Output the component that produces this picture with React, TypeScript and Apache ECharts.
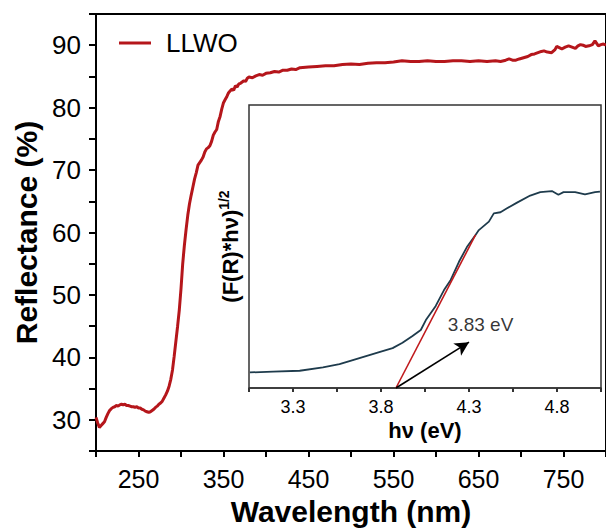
import React, { useEffect, useRef } from "react";
import * as echarts from "echarts";

// Main spectrum: wavelength (nm) vs reflectance (%)
const wavelength = [
  200, 202, 204, 206, 208, 210, 212, 214, 216, 218, 220, 222, 224, 226, 228, 230, 232, 234, 236, 238,
  240, 242, 244, 246, 248, 250, 252, 254, 256, 258, 260, 262, 264, 266, 268, 270, 272, 274, 276, 278,
  280, 282, 284, 286, 288, 290, 292, 294, 296, 298, 300, 302, 304, 306, 308, 310, 312, 314, 316, 318,
  320, 322, 324, 326, 328, 330, 332, 334, 336, 338, 340, 342, 344, 346, 348, 350, 352, 354, 356, 358,
  360, 362, 364, 366, 368, 370, 372, 374, 376, 378, 380, 384, 388, 392, 396, 400, 405, 410, 415, 420,
  425, 430, 435, 440, 450, 460, 470, 480, 490, 500, 510, 520, 530, 540, 550, 560, 570, 580, 590, 600,
  610, 620, 630, 640, 650, 660, 670, 676, 682, 686, 690, 694, 698, 703, 708, 712, 716, 720, 724, 727,
  731, 736, 740, 742, 745, 748, 752, 756, 760, 764, 767, 770, 773, 776, 780, 784, 787, 789, 791, 794,
  797, 800,
];
const reflectance = [
  30.4, 29.5, 28.8, 29.1, 29.4, 29.7, 30.4, 31.0, 31.5, 31.8, 32.0, 32.1, 32.3, 32.2, 32.4, 32.5, 32.4, 32.5, 32.3, 32.3,
  32.2, 32.1, 32.1, 32.0, 32.1, 31.9, 31.9, 31.7, 31.6, 31.4, 31.3, 31.2, 31.3, 31.5, 31.7, 32.0, 32.2, 32.5, 32.7, 33.0,
  33.5, 34.0, 34.6, 35.4, 36.5, 38.0, 40.2, 42.6, 45.0, 47.6, 51.0, 55.0, 58.0, 60.5, 62.8, 64.6, 66.0, 67.3, 68.6, 69.6,
  70.8, 71.2, 71.6, 72.1, 72.9, 73.4, 73.6, 73.9, 74.6, 75.6, 76.1, 76.5, 77.8, 78.6, 79.8, 80.8, 81.3, 81.8, 82.4, 82.7,
  83.0, 82.8, 83.5, 83.3, 83.8, 83.9, 84.1, 84.3, 84.2, 84.7, 84.9, 84.8, 85.1, 85.3, 85.2, 85.5, 85.6, 85.8, 85.7, 86.0,
  86.0, 86.2, 86.1, 86.4, 86.5, 86.6, 86.7, 86.7, 86.9, 87.0, 86.9, 87.1, 87.2, 87.2, 87.3, 87.5, 87.4, 87.4, 87.5, 87.4,
  87.4, 87.5, 87.5, 87.4, 87.5, 87.4, 87.5, 87.4, 87.6, 87.8, 87.6, 87.6, 87.8, 88.0, 88.2, 88.5, 88.6, 88.8, 89.0, 89.1,
  88.9, 88.8, 89.3, 89.8, 89.6, 89.4, 89.7, 89.9, 89.7, 89.5, 89.9, 90.1, 90.0, 89.8, 89.9, 90.1, 90.7, 90.3, 89.9, 90.1,
  90.2, 90.0,
];

// Inset: photon energy (eV) vs (F(R)*hv)^1/2 (arbitrary units)
const photonEnergy = [
  3.055, 3.187, 3.338, 3.47, 3.564, 3.621, 3.715, 3.79, 3.866, 3.922, 3.979, 4.026, 4.055, 4.111, 4.158, 4.196,
  4.243, 4.288, 4.337, 4.356, 4.413, 4.441, 4.479, 4.516, 4.573, 4.648, 4.705, 4.771, 4.808, 4.837, 4.903, 4.959,
  5.016, 5.044,
];
const kubelkaMunk = [
  5.5, 5.8, 6.1, 7.3, 8.4, 9.5, 11.3, 12.7, 14.1, 16.0, 18.4, 20.5, 24.0, 29.0, 34.6, 38.2,
  44.6, 49.8, 54.1, 55.8, 58.8, 61.7, 62.1, 63.5, 65.5, 68.0, 69.2, 69.6, 68.3, 69.2, 69.2, 68.4,
  69.2, 69.4,
];
const tangentEnergy = [3.885, 4.337];
const tangentValue = [0, 54.1];
const arrowFrom = [3.885, 0];
const arrowTo = [4.3, 16.2];
const bandGapText = "3.83 eV";
const bandGapLabelAt = [4.366, 22.6];

// Tick labels
const mainXLabels = [250, 350, 450, 550, 650, 750];
const mainYLabels = [30, 40, 50, 60, 70, 80, 90];
const insetXTickValues = [3.05, 3.3, 3.55, 3.8, 4.05, 4.3, 4.55, 4.8, 5.05];
const insetXLabels = [3.3, 3.8, 4.3, 4.8];

const FONT = "'Liberation Sans', Arial, Helvetica, sans-serif";

export default function App() {
  const ref = useRef<HTMLDivElement>(null);

  useEffect(() => {
    document.body.style.margin = "0";
    if (!ref.current) return;
    const chart = echarts.init(ref.current, undefined, { renderer: "svg" });

    const mainData = wavelength.map((w, i) => [w, reflectance[i]]);
    const insetData = photonEnergy.map((e, i) => [e, kubelkaMunk[i]]);
    const tangentData = tangentEnergy.map((e, i) => [e, tangentValue[i]]);
    const ixCats = insetXTickValues.map((v) => v.toFixed(2));
    const isInsetX = (i: number) => insetXLabels.includes(insetXTickValues[i]);

    const arrowData = (rot: number) => [
      { value: arrowFrom, symbol: "none" },
      { value: arrowTo, symbol: "arrow", symbolSize: [11, 14], symbolRotate: rot },
    ];

    const option: any = {
      animation: false,
      backgroundColor: "#fff",
      textStyle: { fontFamily: FONT },
      legend: {
        data: [{ name: "LLWO", icon: "rect" }],
        left: 119, top: 30, padding: 0, itemWidth: 32, itemHeight: 3,
        textStyle: { fontSize: 26, color: "#000", fontFamily: FONT, padding: [0, 0, 0, 10] },
      },
      grid: [
        { left: 96, top: 14, right: -3, bottom: 76, show: true, borderColor: "#000", borderWidth: 2, backgroundColor: "transparent" },
        { left: 249, top: 105, right: 5, bottom: 143, show: true, borderColor: "#333", borderWidth: 1.5, backgroundColor: "transparent" },
      ],
      xAxis: [
        {
          type: "value", gridIndex: 0, min: 200, max: 800, interval: 50, position: "bottom",
          name: "Wavelength (nm)", nameLocation: "middle", nameGap: 41,
          nameTextStyle: { fontSize: 30, fontWeight: "bold", color: "#000", fontFamily: FONT },
          axisLine: { show: true, lineStyle: { color: "#000", width: 2 } },
          axisTick: { show: true, length: 6, lineStyle: { color: "#000", width: 2 } },
          axisLabel: { show: true, customValues: mainXLabels, fontSize: 25, color: "#000", margin: 15, fontFamily: FONT },
          splitLine: { show: false },
        },
        {
          type: "value", gridIndex: 1, min: 3.05, max: 5.05, position: "bottom",
          name: "hν (eV)", nameLocation: "middle", nameGap: 31,
          nameTextStyle: { fontSize: 22, fontWeight: "bold", color: "#000", fontFamily: FONT },
          axisLine: { show: true, lineStyle: { color: "#333", width: 1.5 } },
          axisTick: { show: false }, axisLabel: { show: false }, splitLine: { show: false },
        },
        {
          type: "category", gridIndex: 1, data: ixCats, boundaryGap: false, position: "bottom",
          axisLine: { show: false },
          axisTick: { show: true, length: 4, interval: 0, lineStyle: { color: "#333", width: 2 } },
          axisLabel: {
            show: true, interval: (i: number) => isInsetX(i), fontSize: 18, color: "#000", margin: 10, fontFamily: FONT,
            formatter: (v: string) => Number(v).toFixed(1),
          },
          splitLine: { show: false },
        },
      ],
      yAxis: [
        {
          type: "value", gridIndex: 0, min: 25, max: 95, interval: 5, position: "left",
          name: "Reflectance (%)", nameLocation: "middle", nameGap: 50, nameRotate: 90,
          nameTextStyle: { fontSize: 30, fontWeight: "bold", color: "#000", fontFamily: FONT },
          axisLine: { show: true, lineStyle: { color: "#000", width: 2 } },
          axisTick: { show: true, length: 7, lineStyle: { color: "#000", width: 2 } },
          axisLabel: { show: true, customValues: mainYLabels, fontSize: 26, color: "#000", margin: 15, fontFamily: FONT },
          splitLine: { show: false },
        },
        {
          type: "value", gridIndex: 1, min: 0, max: 100, position: "left",
          name: "{a|(F(R)*hν)}{b|1/2}", nameLocation: "middle", nameGap: 5, nameRotate: 90,
          nameTextStyle: {
            color: "#000", fontFamily: FONT,
            rich: {
              a: { fontSize: 22, fontWeight: "bold", lineHeight: 27, color: "#000", fontFamily: FONT },
              b: { fontSize: 14, fontWeight: "bold", lineHeight: 14, verticalAlign: "top", color: "#000", fontFamily: FONT },
            },
          },
          axisLine: { show: false }, axisTick: { show: false }, axisLabel: { show: false }, splitLine: { show: false },
        },
      ],
      series: [
        {
          name: "LLWO", type: "line", xAxisIndex: 0, yAxisIndex: 0, data: mainData,
          symbol: "none", lineStyle: { color: "#B5161B", width: 3 }, itemStyle: { color: "#B5161B" },
        },
        {
          name: "inset", type: "line", xAxisIndex: 1, yAxisIndex: 1, data: insetData,
          symbol: "none", lineStyle: { color: "#1E3B4C", width: 1.8 }, itemStyle: { color: "#1E3B4C" }, z: 3,
        },
        {
          name: "tangent", type: "line", xAxisIndex: 1, yAxisIndex: 1, data: tangentData,
          symbol: "none", lineStyle: { color: "#C0191C", width: 1.6 }, itemStyle: { color: "#C0191C" }, z: 4,
        },
        {
          id: "arrow", name: "arrow", type: "line", xAxisIndex: 1, yAxisIndex: 1, data: arrowData(-58),
          showSymbol: true, showAllSymbol: true, symbol: "none", silent: true, clip: false,
          lineStyle: { color: "#000", width: 1.6 }, itemStyle: { color: "#000" }, z: 5,
        },
        {
          name: "label", type: "scatter", xAxisIndex: 1, yAxisIndex: 1, data: [bandGapLabelAt],
          symbolSize: 1, silent: true, itemStyle: { color: "rgba(0,0,0,0)" },
          label: { show: true, position: "inside", formatter: bandGapText, fontSize: 19, color: "#000", fontFamily: FONT },
          z: 5,
        },
      ],
    };

    chart.setOption(option);
    const p1 = chart.convertToPixel({ xAxisIndex: 1, yAxisIndex: 1 } as any, arrowFrom) as number[];
    const p2 = chart.convertToPixel({ xAxisIndex: 1, yAxisIndex: 1 } as any, arrowTo) as number[];
    if (p1 && p2) {
      const ang = (Math.atan2(-(p2[1] - p1[1]), p2[0] - p1[0]) * 180) / Math.PI;
      chart.setOption({ series: [{ id: "arrow", data: arrowData(ang - 90) }] });
    }
    return () => chart.dispose();
  }, []);

  return <div ref={ref} style={{ width: 606, height: 531, overflow: "hidden" }} />;
}
